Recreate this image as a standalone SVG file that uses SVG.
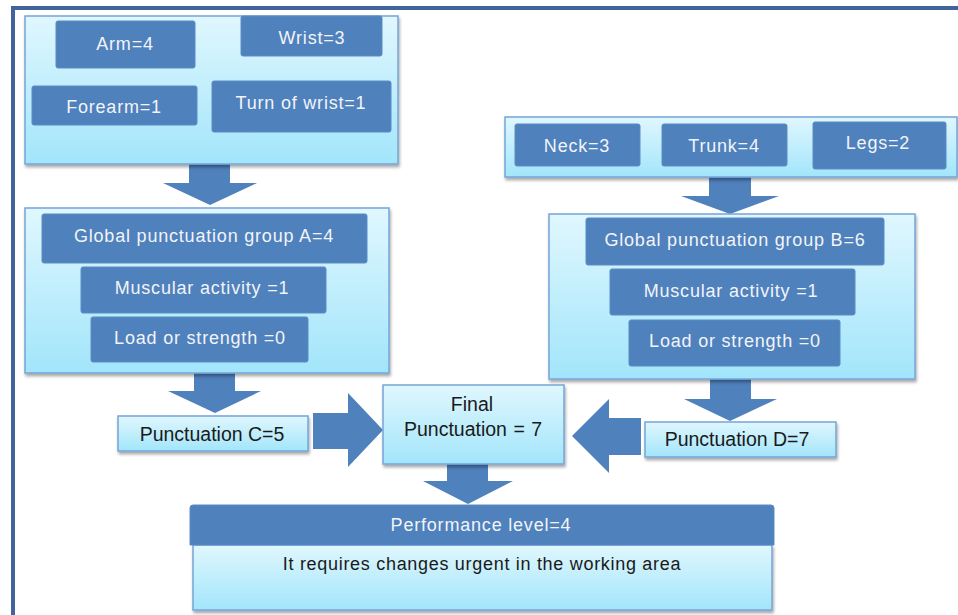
<svg xmlns="http://www.w3.org/2000/svg" width="958" height="615" viewBox="0 0 958 615">
  <defs>
    <linearGradient id="panelFill" x1="0" y1="0" x2="0" y2="1">
      <stop offset="0" stop-color="#E0F7FE"/>
      <stop offset="1" stop-color="#A2E5FB"/>
    </linearGradient>
    <filter id="shadow" x="-5%" y="-10%" width="110%" height="125%">
      <feDropShadow dx="1" dy="2.5" stdDeviation="1.5" flood-color="#000" flood-opacity="0.35"/>
    </filter>
  </defs>
  <style>
    .panel { fill: url(#panelFill); stroke: #76A5D8; stroke-width: 1.5; filter: url(#shadow); }
    .box { fill: #4F81BD; stroke: #5A8BC4; stroke-width: 1; }
    .arrow { fill: #4F81BD; }
    .lt { font-family: "Liberation Sans", Arial, sans-serif; font-size: 18px; fill: #F2F4F8; letter-spacing: 0.8px; text-anchor: middle; }
    .dk { font-family: "Liberation Sans", Arial, sans-serif; font-size: 19.5px; fill: #1A1A1A; text-anchor: middle; }
    .note { font-size: 18px; letter-spacing: 0.7px; }
    .frame { fill: none; stroke: #40659A; stroke-width: 4; }
  </style>

  <rect width="958" height="615" fill="#FFFFFF"/>
  <path class="frame" d="M13 615 V8 H958"/>

  <!-- connectors: block arrows -->
  <g id="connectors">
    <polygon class="arrow" points="189,164 230,164 230,183 257,183 210,205 163,183 189,183"/>
    <polygon class="arrow" points="709,177 751,177 751,196 779,196 730,214 681,196 709,196"/>
    <polygon class="arrow" points="194,373 235,373 235,391 261,391 215,413 168,391 194,391"/>
    <polygon class="arrow" points="710,379 751,379 751,399 777,399 730,421 684,399 710,399"/>
    <polygon class="arrow" points="313,413 348,413 348,393 383,430 348,467 348,449 313,449"/>
    <polygon class="arrow" points="641,418 641,455 609,455 609,473 572,436 609,399 609,418"/>
    <polygon class="arrow" points="447,464 488,464 488,481 513,481 468,504 423,481 447,481"/>
  </g>

  <!-- arm / wrist group -->
  <g id="panel-arm">
    <rect class="panel" x="25" y="16" width="373" height="148"/>
    <g id="arm">
      <rect class="box" x="56" y="21" width="139" height="47" rx="2"/>
      <text class="lt" x="125" y="50">Arm=4</text>
    </g>
    <g id="wrist">
      <rect class="box" x="241" y="16" width="141" height="40" rx="2"/>
      <text class="lt" x="312" y="43.5">Wrist=3</text>
    </g>
    <g id="forearm">
      <rect class="box" x="32" y="86" width="165" height="39" rx="2"/>
      <text class="lt" x="114" y="112.5">Forearm=1</text>
    </g>
    <g id="turn-of-wrist">
      <rect class="box" x="212" y="81" width="179" height="51" rx="2"/>
      <text class="lt" x="301" y="109">Turn of wrist=1</text>
    </g>
  </g>

  <!-- neck / trunk / legs group -->
  <g id="panel-body">
    <rect class="panel" x="505" y="117" width="452" height="60"/>
    <g id="neck">
      <rect class="box" x="515" y="124" width="125" height="42" rx="2"/>
      <text class="lt" x="577" y="152">Neck=3</text>
    </g>
    <g id="trunk">
      <rect class="box" x="662" y="124" width="125" height="42" rx="2"/>
      <text class="lt" x="724" y="152">Trunk=4</text>
    </g>
    <g id="legs">
      <rect class="box" x="813" y="122" width="133" height="47" rx="2"/>
      <text class="lt" x="878" y="149">Legs=2</text>
    </g>
  </g>

  <!-- group A -->
  <g id="group-a">
    <rect class="panel" x="25" y="208" width="364" height="165"/>
    <g id="global-a">
      <rect class="box" x="42" y="214" width="325" height="49" rx="2"/>
      <text class="lt" x="204" y="242">Global punctuation group A=4</text>
    </g>
    <g id="muscular-a">
      <rect class="box" x="81" y="267" width="245" height="46" rx="2"/>
      <text class="lt" x="202" y="294">Muscular activity =1</text>
    </g>
    <g id="load-a">
      <rect class="box" x="91" y="317" width="217" height="45" rx="2"/>
      <text class="lt" x="200" y="344">Load or strength =0</text>
    </g>
  </g>

  <!-- group B -->
  <g id="group-b">
    <rect class="panel" x="549" y="214" width="366" height="165"/>
    <g id="global-b">
      <rect class="box" x="586" y="218" width="298" height="47" rx="2"/>
      <text class="lt" x="735" y="246">Global punctuation group B=6</text>
    </g>
    <g id="muscular-b">
      <rect class="box" x="610" y="269" width="245" height="46" rx="2"/>
      <text class="lt" x="731" y="297">Muscular activity =1</text>
    </g>
    <g id="load-b">
      <rect class="box" x="629" y="320" width="211" height="46" rx="2"/>
      <text class="lt" x="735" y="347">Load or strength =0</text>
    </g>
  </g>

  <g id="punctuation-c">
    <rect class="panel" x="118" y="416" width="190" height="35"/>
    <text class="dk" x="212" y="440.5">Punctuation C=5</text>
  </g>

  <g id="final">
    <rect class="panel" x="383" y="385" width="181" height="79"/>
    <text class="dk" x="472" y="411">Final</text>
    <text class="dk" x="473" y="435.5" word-spacing="1">Punctuation = 7</text>
  </g>

  <g id="punctuation-d">
    <rect class="panel" x="645" y="422" width="191" height="35"/>
    <text class="dk" x="737" y="445.5">Punctuation D=7</text>
  </g>

  <g id="performance">
    <rect class="panel" x="193" y="545" width="579" height="65"/>
    <path class="box" d="M190 545 V508 Q190 505 193 505 H771 Q774 505 774 508 V545 Z"/>
    <text class="lt" x="481" y="531">Performance level=4</text>
    <text class="dk note" x="482" y="570">It requires changes urgent in the working area</text>
  </g>
</svg>
